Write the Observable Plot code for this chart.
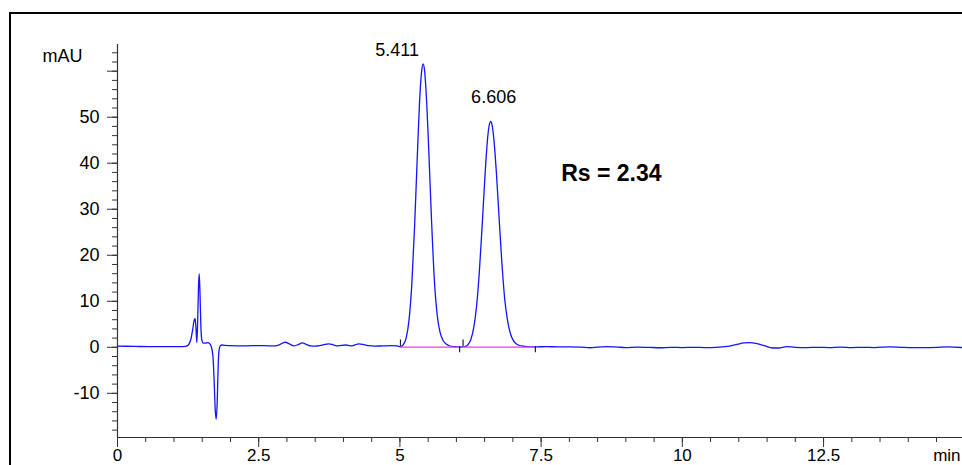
<!DOCTYPE html>
<html>
<head>
<meta charset="utf-8">
<script src="https://cdn.jsdelivr.net/npm/d3@7"></script>
<script src="https://cdn.jsdelivr.net/npm/@observablehq/plot@0.6"></script>
<style>
  html, body { margin: 0; padding: 0; background: #fff; overflow: hidden; }
  #wrap { position: relative; width: 962px; height: 465px; overflow: hidden; }
  #wrap svg { position: absolute; left: 0; top: 0; }
  #border { position: absolute; left: 9px; top: 12px; width: 1000px; height: 1000px;
            border: 2px solid #000; box-sizing: border-box; pointer-events: none; }
</style>
</head>
<body>
<div id="wrap"></div>
<script>
// Detector trace: retention time (min) and absorbance (mAU)
const time = [0, 0.3, 0.6, 0.9, 1.1, 1.2, 1.23, 1.27, 1.30, 1.33, 1.36, 1.375, 1.39, 1.405, 1.42, 1.435, 1.446, 1.46, 1.475, 1.49, 1.52, 1.56, 1.60, 1.63, 1.66, 1.69, 1.71, 1.73, 1.747, 1.765, 1.78, 1.795, 1.82, 1.85, 1.9, 2.0, 2.2, 2.4, 2.6, 2.75, 2.85, 2.97, 3.05, 3.12, 3.2, 3.27, 3.35, 3.42, 3.5, 3.6, 3.74, 3.82, 3.9, 4.04, 4.13, 4.2, 4.27, 4.36, 4.45, 4.55, 4.7, 4.85, 4.95, 5.01, 5.06, 5.11, 5.16, 5.21, 5.26, 5.31, 5.36, 5.385, 5.411, 5.435, 5.46, 5.51, 5.56, 5.61, 5.66, 5.71, 5.76, 5.81, 5.86, 5.91, 5.96, 6.01, 6.06, 6.11, 6.16, 6.206, 6.256, 6.306, 6.356, 6.406, 6.456, 6.506, 6.556, 6.58, 6.606, 6.63, 6.656, 6.706, 6.756, 6.806, 6.856, 6.906, 6.956, 7.006, 7.056, 7.106, 7.206, 7.306, 7.4, 7.6, 7.8, 8.0, 8.2, 8.37, 8.5, 8.67, 8.85, 9.0, 9.2, 9.4, 9.6, 9.8, 10.0, 10.2, 10.4, 10.6, 10.8, 10.95, 11.1, 11.2, 11.3, 11.45, 11.6, 11.7, 11.85, 12.0, 12.2, 12.4, 12.6, 12.8, 13.0, 13.2, 13.4, 13.68, 13.9, 14.1, 14.3, 14.5, 14.7, 14.96];
const absorbance = [0.25, 0.2, 0.15, 0.15, 0.15, 0.2, 0.3, 0.8, 1.8, 3.8, 6.0, 6.2, 4.0, 1.0, 6.0, 13.5, 16.0, 12.0, 5.0, 1.8, 0.9, 0.9, 1.0, 0.8, 0.2, -2.0, -7.0, -13.5, -15.6, -12.0, -5.0, -1.0, 0.3, 0.5, 0.4, 0.35, 0.3, 0.35, 0.35, 0.3, 0.5, 1.1, 0.7, 0.3, 0.6, 0.95, 0.6, 0.3, 0.25, 0.4, 0.75, 0.55, 0.3, 0.5, 0.3, 0.5, 0.75, 0.6, 0.35, 0.25, 0.3, 0.35, 0.3, 0.15, 0.6, 2.0, 5.8, 13.6, 26.3, 42.2, 56.1, 60.0, 61.6, 60.3, 56.3, 43.0, 27.5, 14.6, 7.0, 3.3, 1.6, 0.8, 0.4, 0.2, 0.15, 0.1, 0.05, 0.1, 0.2, 0.6, 1.7, 4.2, 8.8, 16.4, 26.5, 37.3, 45.9, 48.2, 49.1, 48.4, 46.1, 38.3, 28.1, 18.2, 10.4, 5.8, 3.0, 1.5, 0.8, 0.45, 0.2, 0.1, 0.1, 0.15, 0.1, 0.1, 0.05, -0.1, 0.05, 0.15, 0.05, -0.05, 0.05, 0.0, -0.1, 0.0, -0.05, 0.0, -0.05, 0.0, 0.2, 0.6, 0.95, 1.0, 0.85, 0.35, -0.15, -0.15, 0.15, 0.0, -0.05, 0.0, -0.05, 0.05, -0.05, 0.0, -0.05, 0.1, 0.0, -0.05, -0.05, 0.0, 0.1, -0.05];

// Integrated peaks
const peakTimes = [5.411, 6.606];
const peakHeights = [61.6, 49.1];
const peakStarts = [5.01, 6.118];
const peakEnds = [6.057, 7.398];
const resolutionText = "Rs = 2.34";

// Axis ticks
const xMajor = [0, 2.5, 5, 7.5, 10, 12.5];
const xLabels = ["0", "2.5", "5", "7.5", "10", "12.5"];
const xMinor = d3.range(0, 15, 0.5);
const yMajor = [-10, 0, 10, 20, 30, 40, 50, 60];
const yLabels = ["-10", "0", "10", "20", "30", "40", "50", ""];
const yMinor = d3.range(-18, 65, 2);

const xDomain = [0, 14.96];
const yDomain = [-19.6, 65.8];
const axisColor = "#333";
const traceColor = "#1414ff";

const chart = Plot.plot({
  width: 962,
  height: 465,
  marginLeft: 117,
  marginRight: 0,
  marginTop: 44,
  marginBottom: 28,
  x: { domain: xDomain, label: null },
  y: { domain: yDomain, label: null },
  style: { fontFamily: "'Liberation Sans', Arial, sans-serif", fontSize: "18px", color: "#000", background: "transparent" },
  marks: [
    // minor and major ticks
    Plot.axisY(yMinor, { tickSize: 5, tickFormat: () => "", stroke: axisColor }),
    Plot.axisY(yMajor, { tickSize: 10, tickPadding: 8, stroke: axisColor, fill: "#000",
      tickFormat: d => yLabels[yMajor.indexOf(d)] }),
    Plot.axisX(xMinor, { tickSize: 5, tickFormat: () => "", stroke: axisColor }),
    Plot.axisX(xMajor, { tickSize: 10, tickPadding: 1, stroke: axisColor, fill: "#000", fontSize: 17,
      tickFormat: d => xLabels[xMajor.indexOf(d)] }),
    // axis lines
    Plot.ruleX([xDomain[0]], { stroke: axisColor, strokeWidth: 1.2 }),
    Plot.ruleY([yDomain[0]], { stroke: axisColor, strokeWidth: 1.2 }),
    // axis units
    Plot.text(["mAU"], { x: xDomain[0], y: 63.2, dx: -35, textAnchor: "end", fill: "#000" }),
    Plot.text(["min"], { x: 14.44, y: yDomain[0], dy: 11, textAnchor: "start", lineAnchor: "top", fontSize: 17, fill: "#000" }),
    // chromatogram trace
    Plot.line(time, { x: time, y: absorbance, curve: "monotone-x", stroke: traceColor, strokeWidth: 1.3 }),
    // integration baselines and peak start/end markers
    Plot.ruleY(peakStarts, { x1: peakStarts, x2: peakEnds, y: () => 0.05, stroke: "#ff33ff", strokeWidth: 1.2 }),
    Plot.ruleX(peakStarts, { x: peakStarts, y1: () => 0.2, y2: () => 1.6, stroke: "#222", strokeWidth: 1.2 }),
    Plot.ruleX(peakEnds, { x: peakEnds, y1: () => 0.2, y2: () => -1.2, stroke: "#222", strokeWidth: 1.2 }),
    // retention time labels
    Plot.text([0], { x: () => peakTimes[0], y: () => peakHeights[0], text: () => peakTimes[0].toFixed(3),
      dx: -26, dy: -8, lineAnchor: "bottom", fill: "#000" }),
    Plot.text([1], { x: () => peakTimes[1], y: () => peakHeights[1], text: () => peakTimes[1].toFixed(3),
      dx: 3, dy: -18, lineAnchor: "bottom", fill: "#000" }),
    // resolution annotation
    Plot.text([resolutionText], { x: 7.855, y: 36.2, textAnchor: "start", lineAnchor: "bottom",
      fontWeight: "bold", fontSize: 23, fill: "#000" })
  ]
});

const wrap = document.getElementById("wrap");
wrap.appendChild(chart);
const border = document.createElement("div");
border.id = "border";
wrap.appendChild(border);
</script>
</body>
</html>
